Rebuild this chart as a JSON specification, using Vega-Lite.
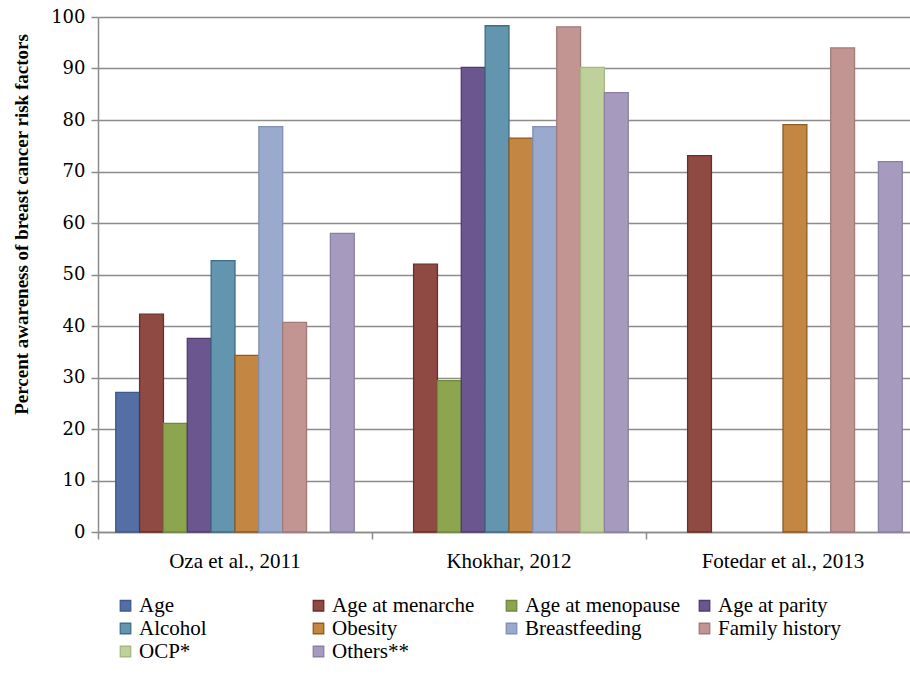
{
  "$schema": "https://vega.github.io/schema/vega-lite/v6.json",
  "width": 812,
  "height": 515,
  "autosize": {"type": "none"},
  "padding": {"left": 98, "top": 17, "right": 0, "bottom": 150},
  "background": "white",
  "data": {
    "values": [
      {"study": "Oza et al., 2011", "factor": "Age", "value": 27.1},
      {"study": "Oza et al., 2011", "factor": "Age at menarche", "value": 42.3},
      {"study": "Oza et al., 2011", "factor": "Age at menopause", "value": 21.1},
      {"study": "Oza et al., 2011", "factor": "Age at parity", "value": 37.6},
      {"study": "Oza et al., 2011", "factor": "Alcohol", "value": 52.7},
      {"study": "Oza et al., 2011", "factor": "Obesity", "value": 34.3},
      {"study": "Oza et al., 2011", "factor": "Breastfeeding", "value": 78.7},
      {"study": "Oza et al., 2011", "factor": "Family history", "value": 40.7},
      {"study": "Oza et al., 2011", "factor": "Others**", "value": 58.0},
      {"study": "Khokhar, 2012", "factor": "Age at menarche", "value": 52.0},
      {"study": "Khokhar, 2012", "factor": "Age at menopause", "value": 29.4},
      {"study": "Khokhar, 2012", "factor": "Age at parity", "value": 90.2},
      {"study": "Khokhar, 2012", "factor": "Alcohol", "value": 98.3},
      {"study": "Khokhar, 2012", "factor": "Obesity", "value": 76.5},
      {"study": "Khokhar, 2012", "factor": "Breastfeeding", "value": 78.7},
      {"study": "Khokhar, 2012", "factor": "Family history", "value": 98.1},
      {"study": "Khokhar, 2012", "factor": "OCP*", "value": 90.2},
      {"study": "Khokhar, 2012", "factor": "Others**", "value": 85.3},
      {"study": "Fotedar et al., 2013", "factor": "Age at menarche", "value": 73.1},
      {"study": "Fotedar et al., 2013", "factor": "Obesity", "value": 79.1},
      {"study": "Fotedar et al., 2013", "factor": "Family history", "value": 94.0},
      {"study": "Fotedar et al., 2013", "factor": "Others**", "value": 71.9}
    ]
  },
  "mark": {"type": "bar", "strokeWidth": 1.3},
  "encoding": {
    "x": {
      "field": "study",
      "type": "nominal",
      "sort": ["Oza et al., 2011", "Khokhar, 2012", "Fotedar et al., 2013"],
      "scale": {"paddingInner": 0, "paddingOuter": 0, "range": [0, 822]},
      "axis": {
        "title": null,
        "labelAngle": 0,
        "labelFont": "Liberation Serif",
        "labelFontSize": 21,
        "labelColor": "black",
        "labelPadding": 11,
        "bandPosition": 0,
        "tickColor": "#8c8c8c",
        "tickSize": 7,
        "tickWidth": 1.5,
        "domainColor": "#8c8c8c",
        "domainWidth": 1.5,
        "grid": false
      }
    },
    "xOffset": {
      "field": "factor",
      "type": "nominal",
      "sort": ["Age", "Age at menarche", "Age at menopause", "Age at parity", "Alcohol", "Obesity", "Breastfeeding", "Family history", "OCP*", "Others**"],
      "scale": {"domain": ["Age", "Age at menarche", "Age at menopause", "Age at parity", "Alcohol", "Obesity", "Breastfeeding", "Family history", "OCP*", "Others**"], "paddingInner": 0, "paddingOuter": 0.744}
    },
    "y": {
      "field": "value",
      "type": "quantitative",
      "scale": {"domain": [0, 100], "nice": false},
      "axis": {
        "title": "Percent awareness of breast cancer risk factors",
        "titleFont": "Liberation Serif",
        "titleFontSize": 19,
        "titleFontWeight": "bold",
        "titleColor": "black",
        "titlePadding": 19,
        "titleY": 207,
        "values": [0, 10, 20, 30, 40, 50, 60, 70, 80, 90, 100],
        "labelFont": "DejaVu Serif",
        "labelFontSize": 18,
        "labelColor": "black",
        "labelPadding": 6,
        "tickColor": "#8c8c8c",
        "tickSize": 7,
        "tickWidth": 1.5,
        "domainColor": "#8c8c8c",
        "domainWidth": 1.5,
        "gridColor": "#8c8c8c",
        "gridWidth": 1.5
      }
    },
    "fill": {
      "field": "factor",
      "type": "nominal",
      "scale": {
        "domain": ["Age", "Age at menarche", "Age at menopause", "Age at parity", "Alcohol", "Obesity", "Breastfeeding", "Family history", "OCP*", "Others**"],
        "range": ["#546ea6", "#904a44", "#8ea550", "#6b568f", "#6395af", "#c38743", "#9aaace", "#c29593", "#bfd09b", "#a69bbf"]
      },
      "legend": {
        "title": null,
        "orient": "none",
        "legendX": 17,
        "legendY": 578,
        "direction": "horizontal",
        "columns": 4,
        "gridAlign": "all",
        "columnPadding": 13,
        "rowPadding": 1,
        "symbolType": "square",
        "symbolSize": 110,
        "symbolStrokeWidth": 1.3,
        "labelFont": {"expr": "'Liberation Serif'"},
        "labelFontSize": 21,
        "labelColor": "black",
        "labelOffset": 3,
        "labelLimit": 300
      }
    },
    "stroke": {
      "field": "factor",
      "type": "nominal",
      "scale": {
        "domain": ["Age", "Age at menarche", "Age at menopause", "Age at parity", "Alcohol", "Obesity", "Breastfeeding", "Family history", "OCP*", "Others**"],
        "range": ["#3d5a8f", "#6b2c2a", "#6e8a3a", "#4e3c70", "#3f6e86", "#8f5b22", "#8190b3", "#a17a78", "#a6b883", "#8a80a0"]
      },
      "legend": null
    }
  },
  "config": {
    "font": "Liberation Serif",
    "view": {"stroke": null},
    "style": {"guide-label": {"font": "Liberation Serif"}}
  }
}
